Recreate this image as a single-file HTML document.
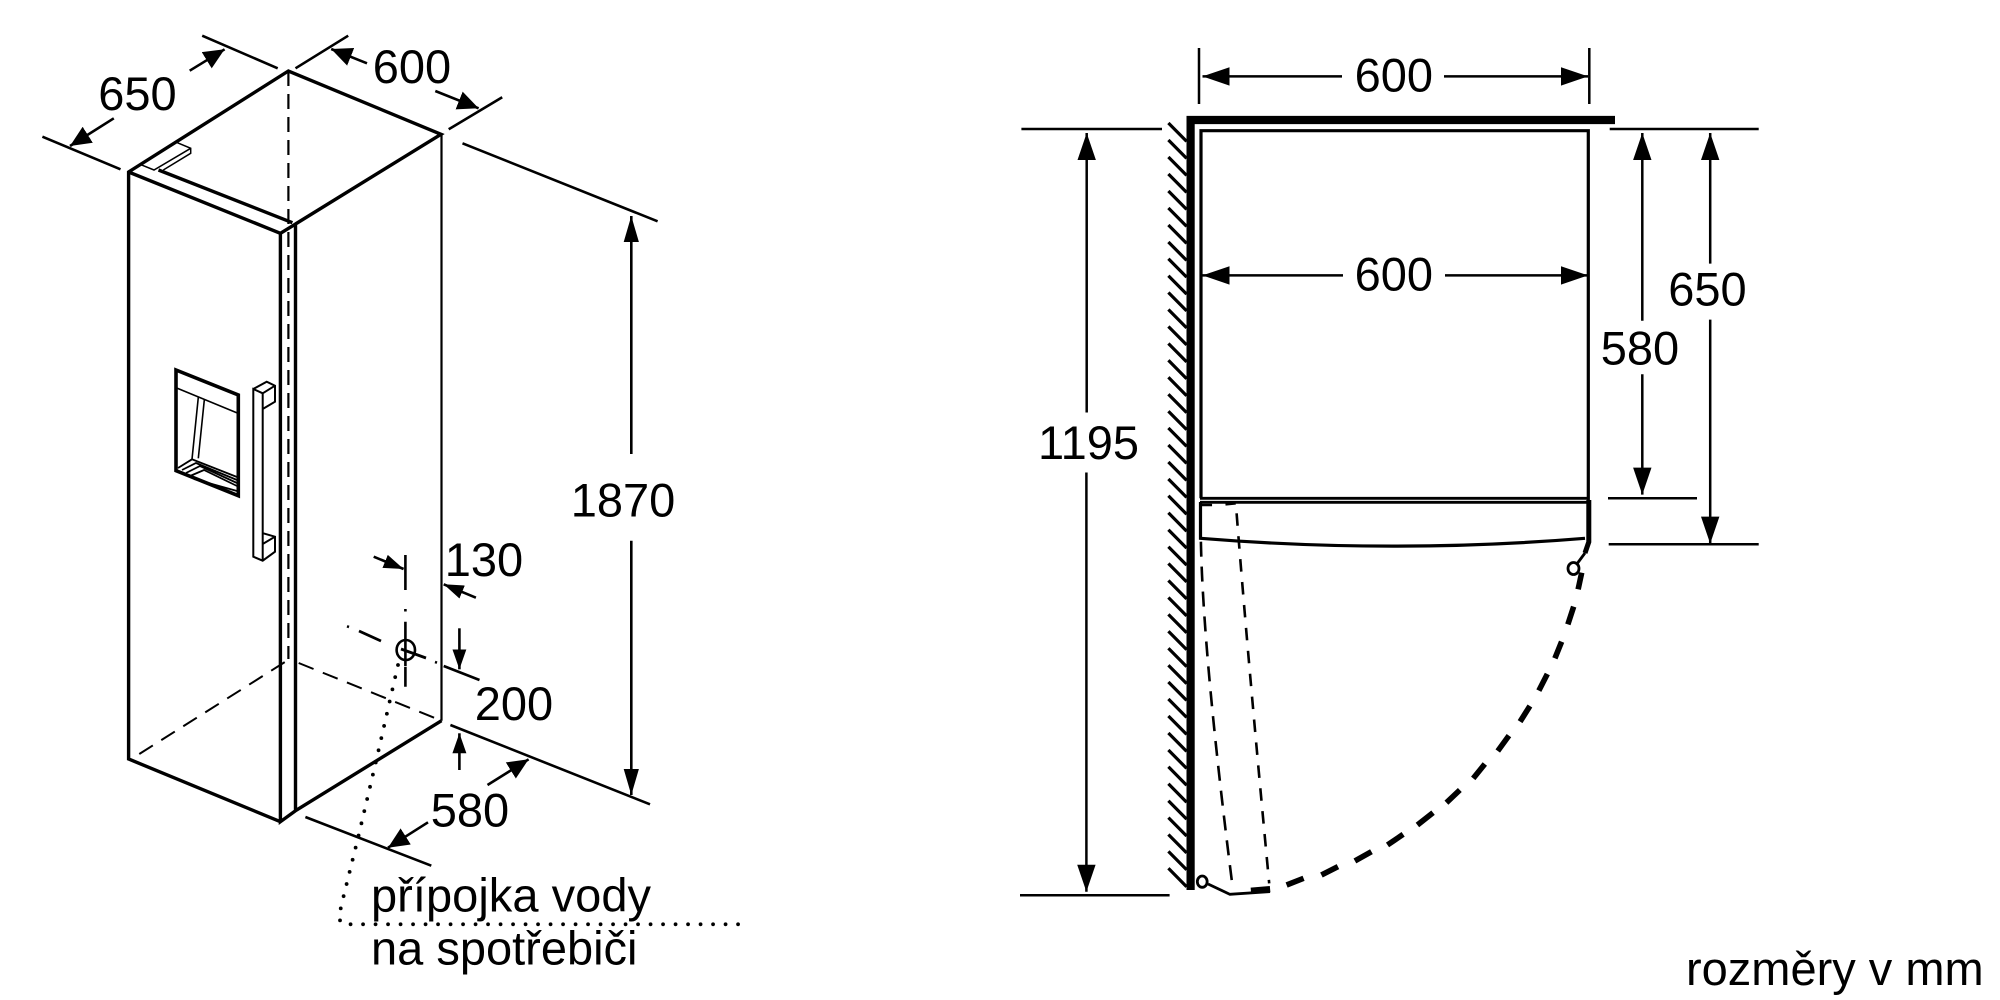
<!DOCTYPE html>
<html><head><meta charset="utf-8"><style>
html,body{margin:0;padding:0;background:#fff;width:2000px;height:1000px;overflow:hidden}
svg{display:block}
text{font-family:"Liberation Sans",sans-serif;font-size:47px;fill:#000}
.n{text-anchor:middle}
path,line,polyline,polygon,ellipse{vector-effect:non-scaling-stroke}
</style></head><body>
<svg width="2000" height="1000" viewBox="0 0 2000 1000" xmlns="http://www.w3.org/2000/svg">
<defs>
<marker id="a" markerUnits="userSpaceOnUse" markerWidth="30" markerHeight="22" refX="27" refY="11" orient="auto"><path d="M0 1.8L27 11L0 20.2Z" fill="#000"/></marker>
<marker id="b" markerUnits="userSpaceOnUse" markerWidth="30" markerHeight="22" refX="26" refY="11" orient="auto"><path d="M0 3.4L26 11L0 18.6Z" fill="#000"/></marker>
<marker id="c" markerUnits="userSpaceOnUse" markerWidth="26" markerHeight="24" refX="21" refY="12" orient="auto"><path d="M0 2.5L21 12L0 21.5Z" fill="#000"/></marker>
<marker id="d" markerUnits="userSpaceOnUse" markerWidth="24" markerHeight="18" refX="20" refY="9" orient="auto"><path d="M0 2L20 9L0 16Z" fill="#000"/></marker>
</defs>

<!-- left isometric view -->
<g fill="none" stroke="#000" stroke-width="3.4">
<path d="M280.4 821.7L128.6 759V172L288.4 71L441 134.3L295.5 224M128.6 172L280.4 233.3L295.5 224V810.7L441.5 720.7M280.4 233.3V821.7L295.5 810.7"/>
<path d="M158.5 170L292.4 222.7"/>
<path d="M441.5 134.3V720.7" stroke-width="2.2"/>
<path d="M288.4 71V659" stroke-width="2.2" stroke-dasharray="15 8"/>
<path d="M139.3 754L289.7 659M298.7 663L441.5 720.7" stroke-width="2" stroke-dasharray="16 10"/>
<!-- top bracket -->
<path d="M177.3 142.7L190.7 148.3V153.3L163.3 170M190.7 148.3L154 170L140 164.3" stroke-width="1.5"/>
<!-- dispenser -->
<path d="M176 370L238.3 395V495.7L176 470.7Z" stroke-width="3.6"/>
<path d="M177.3 388.3L236.7 412.7M198.3 397.3L192 459.3M204.3 400L198.3 458.3" stroke-width="1.6"/>
<path d="M178 468L192 459.3L237 477M182 470L196 463L237 480M186 473L200 466L237 483M190 476L204 470L237 486M194 479L237 491" stroke-width="1.8"/>
<!-- handle -->
<path d="M262.7 409V393.3L253.3 389V556.7L262.7 560.7L275 551.7V536.7L263.3 533.3M253.3 389L266.7 381.7L275 385.7V401.7L262.7 409M262.7 393.3L275 385.7M262.7 393.3V560.7M262.7 544L275 536.7" stroke-width="2"/>
</g>

<!-- left dims -->
<g fill="none" stroke="#000" stroke-width="2.6">
<path d="M202.2 35.7L277.7 68.3M295.5 68.3L348.2 35.7M42.4 136.7L120.5 169.3M448.7 129.3L502.2 97.3M462.5 143.3L657.6 221.3M450.4 725L650 804.3M305.4 817L431.3 865.7M443.7 666L479.5 680"/>
<path marker-end="url(#c)" d="M189.7 70.7L224.6 49.3"/>
<path marker-end="url(#c)" d="M113.8 118.3L70 146"/>
<path marker-end="url(#c)" d="M367 63.3L331.2 49"/>
<path marker-end="url(#c)" d="M435.3 91L478.6 108.3"/>
<path marker-end="url(#b)" d="M631.3 454V216"/>
<path marker-end="url(#b)" d="M631.3 540.7V795"/>
<path marker-end="url(#c)" d="M487.5 785L528.6 759.3"/>
<path marker-end="url(#c)" d="M428 822.3L388 847.7"/>
<path marker-end="url(#d)" d="M373.7 556.7L403.6 569"/>
<path marker-end="url(#d)" d="M475.9 597.7L443.7 584.3"/>
<path marker-end="url(#d)" d="M459.4 628.3V669.3"/>
<path marker-end="url(#d)" d="M459.4 770V733.3"/>
<path d="M405.4 555V590M405.4 621.7V666M405.4 666.7V686.7"/>
<path d="M405.4 609V611.5M347 626.3L349 627M435 662L437 662.7"/>
<path d="M359 631L381 641M401 649L426 658" stroke-width="2.8"/>
<ellipse cx="405.8" cy="650" rx="9.2" ry="10"/>
</g>
<path d="M398 665L390 700L376.8 758L358 838L341 906.7L339 919L343 924.3H742" fill="none" stroke="#000" stroke-width="3.8" stroke-linecap="round" stroke-dasharray="0 12.5"/>

<text class="n" x="137.5" y="110">650</text>
<text class="n" x="412" y="83">600</text>
<text class="n" x="623" y="516.5">1870</text>
<text class="n" x="484" y="576">130</text>
<text class="n" x="514" y="720">200</text>
<text class="n" x="470" y="826.7">580</text>
<text x="371" y="911.5" textLength="280">přípojka vody</text>
<text x="371" y="964.5">na spotřebiči</text>

<!-- right view: wall + hatching -->
<path d="M1615 120H1190.6V890" fill="none" stroke="#000" stroke-width="8.2"/>
<path d="M1168.4 123l18.2 18.4M1168.4 140l18.2 18.4M1168.4 157l18.2 18.4M1168.4 174l18.2 18.4M1168.4 191l18.2 18.4M1168.4 208l18.2 18.4M1168.4 225l18.2 18.4M1168.4 242l18.2 18.4M1168.4 258.7l18.2 18.4M1168.4 275.7l18.2 18.4M1168.4 292.5l18.2 18.4M1168.4 309.5l18.2 18.4M1168.4 326.5l18.2 18.4M1168.4 343.5l18.2 18.4M1168.4 360.3l18.2 18.4M1168.4 377.3l18.2 18.4M1168.4 394.2l18.2 18.4M1168.4 411.2l18.2 18.4M1168.4 428l18.2 18.4M1168.4 445l18.2 18.4M1168.4 462l18.2 18.4M1168.4 479l18.2 18.4M1168.4 495.8l18.2 18.4M1168.4 512.8l18.2 18.4M1168.4 529.7l18.2 18.4M1168.4 546.7l18.2 18.4M1168.4 563.5l18.2 18.4M1168.4 580.5l18.2 18.4M1168.4 597.5l18.2 18.4M1168.4 614.4l18.2 18.4M1168.4 631.2l18.2 18.4M1168.4 648.2l18.2 18.4M1168.4 665.2l18.2 18.4M1168.4 682l18.2 18.4M1168.4 699l18.2 18.4M1168.4 716l18.2 18.4M1168.4 733l18.2 18.4M1168.4 750l18.2 18.4M1168.4 766.8l18.2 18.4M1168.4 783.8l18.2 18.4M1168.4 800.7l18.2 18.4M1168.4 817.6l18.2 18.4M1168.4 834.5l18.2 18.4M1168.4 851.4l18.2 18.4M1168.4 868.3l18.2 18.4" fill="none" stroke="#000" stroke-width="3.2"/>

<!-- appliance box + door -->
<g fill="none" stroke="#000">
<path d="M1201 498.3V130.7H1588.3V500" stroke-width="3.2"/>
<path d="M1200 498.3H1589M1200 502.3H1589" stroke-width="2.8"/>
<path d="M1200.5 502V538.3Q1395 554 1585 538.3" stroke-width="3.2"/>
<path d="M1588.8 500V542L1585 553" stroke-width="5"/>
<path d="M1585 553L1576.5 564.5" stroke-width="2.8"/>
<ellipse cx="1573.5" cy="568.5" rx="5.5" ry="6" stroke-width="2.8"/>

<g transform="translate(1000 470) scale(.44643 .33333)">
<path stroke-width="5.6" d="M1303 308L1295 358M1285 410L1272 463M1258 515L1243 565M1226 612L1207 662M1187 708L1165 755M1140 797L1115 843M1086 882L1060 925M1030 960L1000 998M970 1028L935 1065M903 1093L868 1125M832 1145L795 1173M757 1190L720 1215M680 1225L642 1245"/>
<path stroke-width="2.6" stroke-dasharray="15 10" d="M450 215Q455 552 520 1240"/>
<path stroke-width="2.6" stroke-dasharray="12.5 10.5" d="M530 130Q555 560 603 1240"/>
<path stroke-width="2.6" d="M452 105H475M505 103L528 100"/>
<ellipse cx="453" cy="1235" rx="11" ry="17" stroke-width="2.8"/>
<path stroke-width="2.8" d="M466 1242L515 1273L605 1265"/>
<path stroke-width="6" d="M562 1262L605 1257"/>
</g>
</g>

<!-- right dims -->
<g fill="none" stroke="#000" stroke-width="2.5">
<path d="M1199 48V104M1589.3 48V104M1021.4 129H1162M1020 895.3H1169.6M1609.7 129H1758.7M1608 498.2H1697M1608.7 544.3H1758.7"/>
<path marker-end="url(#a)" d="M1342 76.4H1202.5"/>
<path marker-end="url(#a)" d="M1444 76.4H1588"/>
<path marker-end="url(#a)" d="M1343 275.4H1202.5"/>
<path marker-end="url(#a)" d="M1445 275.4H1588"/>
<path marker-end="url(#a)" d="M1086.7 412.5V133"/>
<path marker-end="url(#a)" d="M1086.4 472.5V891.7"/>
<path marker-end="url(#a)" d="M1642.3 320.7V133"/>
<path marker-end="url(#a)" d="M1642.3 374.3V494.6"/>
<path marker-end="url(#a)" d="M1710.2 263.6V133"/>
<path marker-end="url(#a)" d="M1710.2 319.6V543.6"/>
</g>

<text class="n" x="1393.8" y="91.3">600</text>
<text class="n" x="1393.8" y="290.3">600</text>
<text class="n" x="1088.5" y="459">1195</text>
<text class="n" x="1640" y="364.3">580</text>
<text class="n" x="1707.5" y="305.7">650</text>
<text x="1686" y="985">rozměry v mm</text>
</svg>
</body></html>
